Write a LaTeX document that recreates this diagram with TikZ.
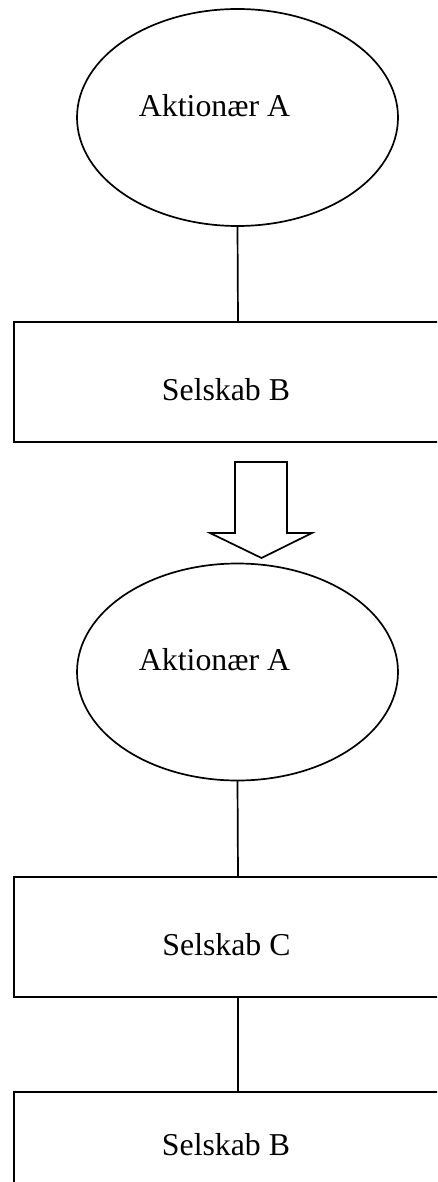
\documentclass[tikz,border=0pt]{standalone}
\usepackage{fontspec}
\setmainfont{Liberation Serif}
\usetikzlibrary{shapes.geometric}
\begin{document}
\begin{tikzpicture}[x=1pt,y=1pt,
  every node/.style={inner sep=0pt,outer sep=0pt},
  lw/.style={line width=1.7pt},
  oval/.style={ellipse,draw,lw,minimum width=321pt,minimum height=217pt},
  boxnode/.style={rectangle,draw,lw,minimum width=448pt,minimum height=120pt},
  lbl/.style={font=\fontsize{31.8}{36}\selectfont,anchor=base},
  conn/.style={lw}]
\useasboundingbox (0,0) rectangle (437,-1182);
\clip (0,0) rectangle (437,-1182);
\fill[white] (0,0) rectangle (437,-1182);
% first group
\node[oval] (e1) at (237.5,-117.5) {};
\node[lbl] (t1) at (214.5,-117) {Aktionær A};
\node[boxnode] (r1) at (238,-382) {};
\node[lbl] (t2) at (226,-400) {Selskab B};
\draw[conn] (e1.south) -- (r1.north);
% block arrow
\draw[lw,line join=miter] (235,-462) -- (287,-462) -- (287,-533) -- (312,-533)
  -- (261.5,-558) -- (210,-533) -- (235,-533) -- cycle;
% second group
\node[oval] (e2) at (237.5,-672) {};
\node[lbl] (t3) at (214.5,-670) {Aktionær A};
\node[boxnode] (r2) at (238,-937) {};
\node[lbl] (t4) at (226.5,-955) {Selskab C};
\node[boxnode] (r3) at (238,-1152) {};
\node[lbl] (t5) at (226,-1155) {Selskab B};
\draw[conn] (e2.south) -- (r2.north);
\draw[conn] (r2.south) -- (r3.north);
\end{tikzpicture}
\end{document}
